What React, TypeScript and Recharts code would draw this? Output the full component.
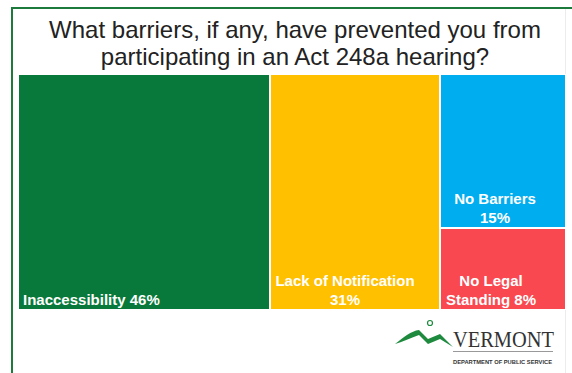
import React from "react";
import { Treemap } from "recharts";

const categories = ["Inaccessibility", "Lack of Notification", "No Barriers", "No Legal Standing"];
const shares = [46, 31, 15, 8];
const labelLines = [
  ["Inaccessibility 46%"],
  ["Lack of Notification", "31%"],
  ["No Barriers", "15%"],
  ["No Legal", "Standing 8%"],
];
const titleLines = [
  "What barriers, if any, have prevented you from",
  "participating in an Act 248a hearing?",
];

const colors = ["#08793A", "#FFC000", "#00AEEF", "#F9484F"];
// horizontal nudge of the centred labels, per cell
const labelShift = [0, -10, -8, -12];

const data = categories.map((name, i) => ({ name, value: shares[i], lines: labelLines[i] }));

const CellContent = (props: any) => {
  const { x, y, width, height, depth, index, lines } = props;
  if (depth !== 1) return null;
  const rows: string[] = lines || [];
  const lineH = 19;
  const bottom = y + height - 5;
  const left = index === 0;
  return (
    <g>
      <rect x={x} y={y} width={width} height={height} fill={colors[index]} stroke="#fff" strokeWidth={2} />
      {rows.map((t, k) => (
        <text
          key={k}
          x={left ? x + 5 : x + width / 2 + labelShift[index]}
          y={bottom - (rows.length - 1 - k) * lineH}
          textAnchor={left ? "start" : "middle"}
          fill="#fff"
          stroke="none"
          fontFamily="Liberation Sans, Arial, sans-serif"
          fontWeight="bold"
          fontSize={15}
        >
          {t}
        </text>
      ))}
    </g>
  );
};

export default function App() {
  return (
    <div style={{ position: "absolute", left: 0, top: 0, width: 572, height: 373, background: "#fff", overflow: "hidden" }}>
      <svg width={572} height={373} style={{ position: "absolute", left: 0, top: 0 }}>
        <rect x={11} y={7} width={2} height={366} fill="#1D7A3D" />
        <rect x={11} y={7} width={561} height={2} fill="#1D7A3D" />
        <rect x={565} y={9} width={1} height={364} fill="#ececec" />
        {titleLines.map((t, i) => (
          <text
            key={i}
            x={295}
            y={38 + i * 27}
            textAnchor="middle"
            fontFamily="Liberation Sans, Arial, sans-serif"
            fontSize={24}
            fill="#222"
          >
            {t}
          </text>
        ))}
        <g>
          <path
            d="M395,344 C404,337 411,331 419,330 L428,339 L440,334 L453,347 L440,339 L428,344 L419,335 C410,338 402,342 395,344 Z"
            fill="#1E8A3E"
          />
          <circle cx={430} cy={323} r={2.5} fill="none" stroke="#1E8A3E" strokeWidth={1.2} />
          <text x={453} y={347} textLength={101} lengthAdjust="spacingAndGlyphs" fontFamily="Liberation Serif, Times New Roman, serif" fontSize={23} fill="#333">
            VERMONT
          </text>
          <rect x={453} y={351} width={100} height={1} fill="#999" />
          <text x={453} y={364} textLength={99} lengthAdjust="spacingAndGlyphs" fontFamily="Liberation Sans, Arial, sans-serif" fontWeight="bold" fontSize={6} fill="#333">
            DEPARTMENT OF PUBLIC SERVICE
          </text>
        </g>
      </svg>
      <div style={{ position: "absolute", left: 18, top: 74 }}>
        <Treemap
          width={548}
          height={236}
          data={data}
          dataKey="value"
          aspectRatio={1}
          stroke="#fff"
          isAnimationActive={false}
          content={<CellContent />}
        />
      </div>
    </div>
  );
}
